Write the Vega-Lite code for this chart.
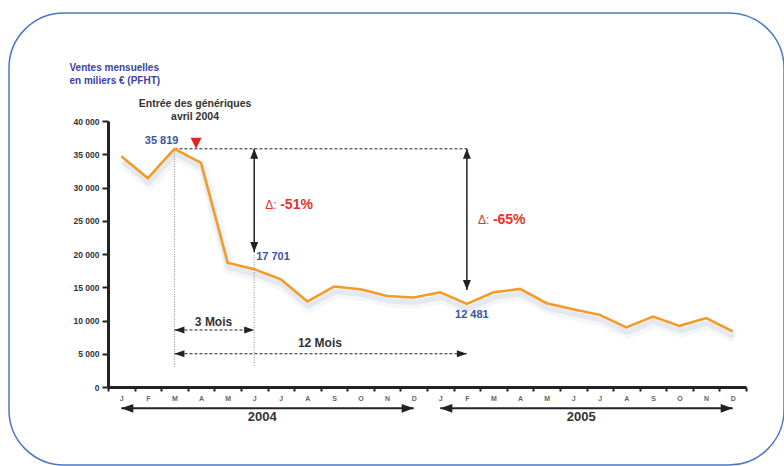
{
  "$schema": "https://vega.github.io/schema/vega-lite/v6.json",
  "width": 775,
  "height": 452,
  "autosize": {"type": "none"},
  "padding": {"left": 9, "top": 13, "right": 0, "bottom": 1},
  "background": "white",
  "config": {
    "font": "Liberation Sans",
    "locale": {"number": {"decimal": ",", "thousands": " ", "grouping": [3], "currency": ["", " €"]}},
    "view": {"stroke": "#4a78c2", "strokeWidth": 1.5, "cornerRadius": 55, "fill": "white"}
  },
  "datasets": {
    "ventes": [
      {"mois": "2004-01", "ventes": 34700},
      {"mois": "2004-02", "ventes": 31400},
      {"mois": "2004-03", "ventes": 35819},
      {"mois": "2004-04", "ventes": 33700},
      {"mois": "2004-05", "ventes": 18700},
      {"mois": "2004-06", "ventes": 17701},
      {"mois": "2004-07", "ventes": 16200},
      {"mois": "2004-08", "ventes": 12850},
      {"mois": "2004-09", "ventes": 15100},
      {"mois": "2004-10", "ventes": 14700},
      {"mois": "2004-11", "ventes": 13700},
      {"mois": "2004-12", "ventes": 13450},
      {"mois": "2005-01", "ventes": 14250},
      {"mois": "2005-02", "ventes": 12481},
      {"mois": "2005-03", "ventes": 14250},
      {"mois": "2005-04", "ventes": 14750},
      {"mois": "2005-05", "ventes": 12600},
      {"mois": "2005-06", "ventes": 11700},
      {"mois": "2005-07", "ventes": 10850},
      {"mois": "2005-08", "ventes": 8950},
      {"mois": "2005-09", "ventes": 10600},
      {"mois": "2005-10", "ventes": 9200},
      {"mois": "2005-11", "ventes": 10350},
      {"mois": "2005-12", "ventes": 8350}
    ],
    "reperes": [
      {"mois": "2004-03", "haut": 35819, "bas": 3000},
      {"mois": "2004-06", "haut": 20300, "bas": 3000}
    ],
    "niveau": [
      {"debut": "2004-03", "fin": "2005-02", "v": 35819}
    ],
    "ecarts": [
      {"mois": "2004-06", "haut": 35819, "bas": 20300, "delta": "-51%", "yDelta": 27400},
      {"mois": "2005-02", "haut": 35819, "bas": 14600, "delta": "-65%", "yDelta": 25100}
    ],
    "durees": [
      {"debut": "2004-03", "fin": "2004-06", "v": 8570, "texte": "3 Mois", "mois": "2004-04", "vt": 9770},
      {"debut": "2004-03", "fin": "2005-02", "v": 5000, "texte": "12 Mois", "mois": "2004-08", "vt": 6570}
    ],
    "annees": [
      {"debut": "2004-01", "fin": "2004-12", "v": -3200, "annee": "2004", "mois": "2004-06", "vt": -4500},
      {"debut": "2005-01", "fin": "2005-12", "v": -3200, "annee": "2005", "mois": "2005-06", "vt": -4500}
    ],
    "entree": [
      {"mois": "2004-04", "v": 35819}
    ],
    "entreeTextes": [
      {"mois": "2004-04", "v": 42560, "texte": "Entrée des génériques"},
      {"mois": "2004-04", "v": 40600, "texte": "avril 2004"}
    ]
  },
  "layer": [
    {
      "data": {"name": "ventes"},
      "mark": {"type": "line", "stroke": "#aab8cc", "strokeWidth": 11, "opacity": 0.13, "yOffset": 6, "xOffset": 2, "strokeJoin": "round"},
      "encoding": {
        "x": {
          "field": "mois", "type": "ordinal",
          "scale": {"type": "band", "range": [99, 737], "paddingInner": 0, "paddingOuter": 0},
          "axis": {
            "title": null, "orient": "bottom", "offset": -78, "grid": false,
            "domainColor": "#222", "domainWidth": 3,
            "tickColor": "#222", "tickWidth": 2, "tickSize": 4, "tickBand": "extent",
            "labelFontSize": 7, "labelFontWeight": "bold", "labelColor": "#666", "labelPadding": 3, "labelAngle": 0,
            "labelExpr": "isString(datum.value) ? ['J','F','M','A','M','J','J','A','S','O','N','D'][toNumber(slice(datum.value, 5)) - 1] : ''"
          }
        },
        "y": {
          "field": "ventes", "type": "quantitative",
          "scale": {"domain": [0, 40000], "range": [374, 108], "nice": false, "zero": true},
          "axis": {
            "title": ["Ventes mensuelles", "en miliers € (PFHT)"],
            "titleAngle": 0, "titleX": -39, "titleY": 49, "titleAlign": "left", "titleBaseline": "top",
            "titleFontSize": 10, "titleFontWeight": "bold", "titleColor": "#3d3f9e", "titleLineHeight": 13,
            "offset": -99, "grid": false,
            "values": [0, 5000, 10000, 15000, 20000, 25000, 30000, 35000, 40000],
            "format": ",d",
            "domainColor": "#222", "domainWidth": 3,
            "tickColor": "#222", "tickWidth": 2, "tickSize": 6,
            "labelFontSize": 8.5, "labelFontWeight": "bold", "labelColor": "#333", "labelPadding": 3
          }
        }
      }
    },
    {
      "data": {"name": "ventes"},
      "mark": {"type": "line", "stroke": "#9fb0c8", "strokeWidth": 5, "opacity": 0.18, "yOffset": 5, "xOffset": 1, "strokeJoin": "round"},
      "encoding": {
        "x": {"field": "mois", "type": "ordinal"},
        "y": {"field": "ventes", "type": "quantitative"}
      }
    },
    {
      "data": {"name": "reperes"},
      "mark": {"type": "rule", "color": "#8a8a8a", "strokeWidth": 1, "strokeDash": [1, 1.5]},
      "encoding": {
        "x": {"field": "mois", "type": "ordinal"},
        "y": {"field": "haut", "type": "quantitative"},
        "y2": {"field": "bas"}
      }
    },
    {
      "data": {"name": "niveau"},
      "mark": {"type": "rule", "color": "#222", "strokeWidth": 1, "strokeDash": [3, 2]},
      "encoding": {
        "x": {"field": "debut", "type": "ordinal"},
        "x2": {"field": "fin"},
        "y": {"field": "v", "type": "quantitative"}
      }
    },
    {
      "data": {"name": "ecarts"},
      "mark": {"type": "rule", "color": "#222", "strokeWidth": 1.5},
      "encoding": {
        "x": {"field": "mois", "type": "ordinal"},
        "y": {"field": "haut", "type": "quantitative"},
        "y2": {"field": "bas"}
      }
    },
    {
      "data": {"name": "ecarts"},
      "mark": {"type": "point", "shape": "M0,0L0.8,2L-0.8,2Z", "filled": true, "color": "#222", "opacity": 1, "size": 100},
      "encoding": {
        "x": {"field": "mois", "type": "ordinal"},
        "y": {"field": "haut", "type": "quantitative"}
      }
    },
    {
      "data": {"name": "ecarts"},
      "mark": {"type": "point", "shape": "M0,0L0.8,-2L-0.8,-2Z", "filled": true, "color": "#222", "opacity": 1, "size": 100},
      "encoding": {
        "x": {"field": "mois", "type": "ordinal"},
        "y": {"field": "bas", "type": "quantitative"}
      }
    },
    {
      "data": {"name": "ecarts"},
      "mark": {"type": "text", "align": "left", "baseline": "middle", "dx": 11, "fontSize": 12, "color": "#e53227"},
      "encoding": {
        "x": {"field": "mois", "type": "ordinal"},
        "y": {"field": "yDelta", "type": "quantitative"},
        "text": {"value": "Δ:"}
      }
    },
    {
      "data": {"name": "ecarts"},
      "mark": {"type": "text", "align": "left", "baseline": "middle", "dx": 26, "fontSize": 14, "fontWeight": "bold", "color": "#e53227"},
      "encoding": {
        "x": {"field": "mois", "type": "ordinal"},
        "y": {"field": "yDelta", "type": "quantitative"},
        "text": {"field": "delta"}
      }
    },
    {
      "data": {"name": "durees"},
      "mark": {"type": "rule", "color": "#222", "strokeWidth": 1, "strokeDash": [3, 2]},
      "encoding": {
        "x": {"field": "debut", "type": "ordinal"},
        "x2": {"field": "fin"},
        "y": {"field": "v", "type": "quantitative"}
      }
    },
    {
      "data": {"name": "durees"},
      "mark": {"type": "point", "shape": "M0,0L2.5,-0.85L2.5,0.85Z", "filled": true, "color": "#222", "opacity": 1, "size": 64},
      "encoding": {
        "x": {"field": "debut", "type": "ordinal"},
        "y": {"field": "v", "type": "quantitative"}
      }
    },
    {
      "data": {"name": "durees"},
      "mark": {"type": "point", "shape": "M0,0L-2.5,-0.85L-2.5,0.85Z", "filled": true, "color": "#222", "opacity": 1, "size": 64},
      "encoding": {
        "x": {"field": "fin", "type": "ordinal"},
        "y": {"field": "v", "type": "quantitative"}
      }
    },
    {
      "data": {"name": "durees"},
      "mark": {"type": "text", "align": "center", "baseline": "middle", "dx": 12.5, "fontSize": 12, "fontWeight": "bold", "color": "#333"},
      "encoding": {
        "x": {"field": "mois", "type": "ordinal"},
        "y": {"field": "vt", "type": "quantitative"},
        "text": {"field": "texte"}
      }
    },
    {
      "data": {"name": "annees"},
      "mark": {"type": "rule", "color": "#222", "strokeWidth": 2},
      "encoding": {
        "x": {"field": "debut", "type": "ordinal"},
        "x2": {"field": "fin"},
        "y": {"field": "v", "type": "quantitative"}
      }
    },
    {
      "data": {"name": "annees"},
      "mark": {"type": "point", "shape": "M0,0L3,-1.1L3,1.1Z", "filled": true, "color": "#222", "opacity": 1, "size": 64},
      "encoding": {
        "x": {"field": "debut", "type": "ordinal"},
        "y": {"field": "v", "type": "quantitative"}
      }
    },
    {
      "data": {"name": "annees"},
      "mark": {"type": "point", "shape": "M0,0L-3,-1.1L-3,1.1Z", "filled": true, "color": "#222", "opacity": 1, "size": 64},
      "encoding": {
        "x": {"field": "fin", "type": "ordinal"},
        "y": {"field": "v", "type": "quantitative"}
      }
    },
    {
      "data": {"name": "annees"},
      "mark": {"type": "text", "align": "center", "baseline": "middle", "dx": 8, "fontSize": 13, "fontWeight": "bold", "color": "#333"},
      "encoding": {
        "x": {"field": "mois", "type": "ordinal"},
        "y": {"field": "vt", "type": "quantitative"},
        "text": {"field": "annee"}
      }
    },
    {
      "data": {"name": "ventes"},
      "mark": {"type": "line", "stroke": "#f49a26", "strokeWidth": 2.5},
      "encoding": {
        "x": {"field": "mois", "type": "ordinal"},
        "y": {"field": "ventes", "type": "quantitative"}
      }
    },
    {
      "data": {"name": "entree"},
      "mark": {"type": "point", "shape": "M-1,0L0.1,-2.2L-2.1,-2.2Z", "filled": true, "color": "#e3232a", "opacity": 1, "size": 100},
      "encoding": {
        "x": {"field": "mois", "type": "ordinal"},
        "y": {"field": "v", "type": "quantitative"}
      }
    },
    {
      "data": {"name": "entreeTextes"},
      "mark": {"type": "text", "align": "center", "baseline": "middle", "dx": -6, "fontSize": 10.5, "fontWeight": "bold", "color": "#333"},
      "encoding": {
        "x": {"field": "mois", "type": "ordinal"},
        "y": {"field": "v", "type": "quantitative"},
        "text": {"field": "texte"}
      }
    },
    {
      "data": {"name": "ventes"},
      "transform": [{"filter": "datum.mois === '2004-03'"}],
      "mark": {"type": "text", "align": "right", "baseline": "middle", "dx": 4, "dy": -8, "fontSize": 11, "fontWeight": "bold", "color": "#3c52a4"},
      "encoding": {
        "x": {"field": "mois", "type": "ordinal"},
        "y": {"field": "ventes", "type": "quantitative"},
        "text": {"field": "ventes", "type": "quantitative", "format": ",d"}
      }
    },
    {
      "data": {"name": "ventes"},
      "transform": [{"filter": "datum.mois === '2004-06'"}],
      "mark": {"type": "text", "align": "left", "baseline": "middle", "dx": 2, "dy": -12, "fontSize": 11, "fontWeight": "bold", "color": "#3c52a4"},
      "encoding": {
        "x": {"field": "mois", "type": "ordinal"},
        "y": {"field": "ventes", "type": "quantitative"},
        "text": {"field": "ventes", "type": "quantitative", "format": ",d"}
      }
    },
    {
      "data": {"name": "ventes"},
      "transform": [{"filter": "datum.mois === '2005-02'"}],
      "mark": {"type": "text", "align": "center", "baseline": "middle", "dx": 5, "dy": 11, "fontSize": 11, "fontWeight": "bold", "color": "#3c52a4"},
      "encoding": {
        "x": {"field": "mois", "type": "ordinal"},
        "y": {"field": "ventes", "type": "quantitative"},
        "text": {"field": "ventes", "type": "quantitative", "format": ",d"}
      }
    }
  ]
}
